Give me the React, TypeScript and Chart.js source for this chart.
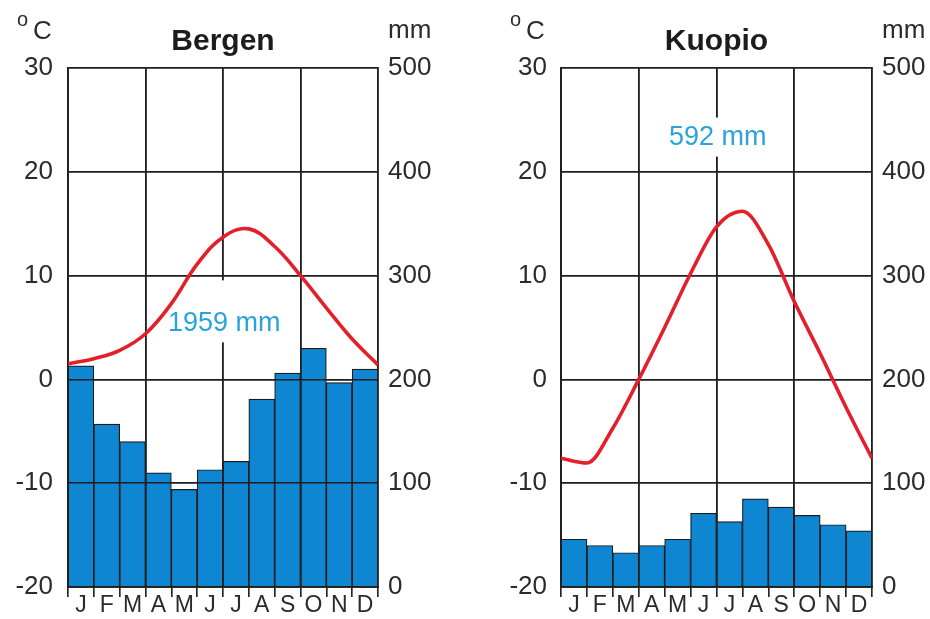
import React, { useEffect, useRef } from "react";
import { Chart, registerables } from "chart.js";

Chart.register(...registerables);

// ---------- data ----------
const MONTHS = ["J", "F", "M", "A", "M", "J", "J", "A", "S", "O", "N", "D"];
// temperature curve is sampled at month boundaries (0 = start of Jan, 12 = end of Dec)
const MONTH_EDGES = [0, 1, 2, 3, 4, 5, 6, 7, 8, 9, 10, 11, 12];
const TEMP_RANGE = [-20, 30];
const TEMP_STEP = 10;
const PRECIP_RANGE = [0, 500];
const PRECIP_STEP = 100;

const BERGEN_PRECIP = [213, 157, 140, 110, 94, 113, 121, 181, 206, 230, 197, 210];
const BERGEN_TEMP = [1.5, 2.0, 2.8, 4.4, 7.3, 11.1, 13.7, 14.5, 12.8, 10.0, 6.9, 3.9, 1.4];
const BERGEN_TOTAL = "1959 mm";

const KUOPIO_PRECIP = [46, 40, 33, 40, 46, 71, 63, 85, 77, 69, 60, 54];
const KUOPIO_TEMP = [-7.6, -8.05, -4.7, 0.0, 5.0, 10.2, 14.7, 16.2, 13.0, 7.5, 2.5, -2.7, -7.6];
const KUOPIO_TOTAL = "592 mm";

// ---------- style ----------
const FONT = '"Liberation Sans", Arial, Helvetica, sans-serif';
const GRID = "#1f1f1f";
const TEXT = "#2b2b2b";
const BAR = "#0f86d2";
const LINE = "#e3202a";
const NOTE = "#2aa3da";

type Station = {
  title: string;
  precip: number[];
  temp: number[];
  note: string;
  noteX: number;
  noteY: number;
  boxTop: number;
  boxBottom: number;
  left: number;
  leftAxis: number;
  rightAxis: number;
  leftPad: number;
  interp: string;
};

const STATIONS: Station[] = [
  {
    title: "Bergen",
    precip: BERGEN_PRECIP,
    temp: BERGEN_TEMP,
    note: BERGEN_TOTAL,
    noteX: 6.05,
    noteY: 5.4,
    boxTop: 43,
    boxBottom: 19,
    left: 0,
    leftAxis: 68,
    rightAxis: 87,
    leftPad: 15,
    interp: "default",
  },
  {
    title: "Kuopio",
    precip: KUOPIO_PRECIP,
    temp: KUOPIO_TEMP,
    note: KUOPIO_TOTAL,
    noteX: 6.05,
    noteY: 23.3,
    boxTop: 20,
    boxBottom: 19,
    left: 465,
    leftAxis: 96,
    rightAxis: 58,
    leftPad: 14,
    interp: "monotone",
  },
];

const W = 465;
const H = 619;

function makeConfig(st: Station): any {
  const gridOver = {
    id: "gridOver",
    afterDatasetDraw(chart: any, args: any) {
      if (args.meta.type !== "bar") return;
      const area = chart.chartArea;
      chart.scales.x.drawGrid(area);
      chart.scales.yT.drawGrid(area);
      chart.scales.x.drawBorder();
      chart.scales.yT.drawBorder();
      chart.scales.yP.drawBorder();
      // precipitation total label with white backing
      const ctx = chart.ctx;
      const nx = chart.scales.xL.getPixelForValue(st.noteX);
      const ny = chart.scales.yT.getPixelForValue(st.noteY);
      ctx.save();
      ctx.font = `27px ${FONT}`;
      const w = ctx.measureText(st.note).width;
      ctx.fillStyle = "#ffffff";
      ctx.fillRect(nx - w / 2 - 4, ny - st.boxTop, w + 8, st.boxTop + st.boxBottom);
      ctx.fillStyle = NOTE;
      ctx.textAlign = "center";
      ctx.textBaseline = "middle";
      ctx.fillText(st.note, nx, ny);
      ctx.restore();
    },
  };

  const headText = {
    id: "headText",
    afterDraw(chart: any) {
      const { ctx, chartArea: a } = chart;
      ctx.save();
      ctx.textBaseline = "alphabetic";
      ctx.textAlign = "left";
      ctx.fillStyle = TEXT;
      ctx.font = `20px ${FONT}`;
      ctx.fillText("o", a.left - 51, 25.5);
      ctx.font = `26px ${FONT}`;
      ctx.fillText("C", a.left - 35, 38.5);
      ctx.fillText("mm", a.right + 10, 37.5);
      ctx.font = `bold 30px ${FONT}`;
      ctx.textAlign = "center";
      ctx.fillStyle = "#1c1c1c";
      ctx.fillText(st.title, (a.left + a.right) / 2, 49.5);
      ctx.restore();
    },
  };

  return {
    type: "bar",
    data: {
      labels: MONTHS,
      datasets: [
        {
          type: "line",
          data: st.temp.map((t, i) => ({ x: MONTH_EDGES[i], y: t })),
          xAxisID: "xL",
          yAxisID: "yT",
          borderColor: LINE,
          borderWidth: 3.6,
          pointRadius: 0,
          tension: 0.4,
          cubicInterpolationMode: st.interp,
          fill: false,
          order: 1,
        },
        {
          type: "bar",
          data: st.precip,
          xAxisID: "x",
          yAxisID: "yP",
          backgroundColor: BAR,
          borderColor: "#1c1c1c",
          borderWidth: 1.2,
          categoryPercentage: 1,
          barPercentage: 1,
          grouped: false,
          order: 2,
        },
      ],
    },
    plugins: [gridOver, headText],
    options: {
      responsive: false,
      animation: false,
      events: [],
      layout: { padding: { top: 68, left: 0, right: 0, bottom: 0 } },
      plugins: {
        legend: { display: false },
        tooltip: { enabled: false },
        title: { display: false },
      },
      scales: {
        x: {
          type: "category",
          offset: true,
          grid: {
            offset: true,
            color: (c: any) => (c.index % 3 === 0 ? GRID : "rgba(0,0,0,0)"),
            lineWidth: 1.6,
            drawTicks: true,
            tickLength: 10,
            tickColor: GRID,
            tickWidth: 1.2,
          },
          border: { display: true, color: GRID, width: 1.6 },
          ticks: {
            color: TEXT,
            font: { family: FONT, size: 23 },
            padding: -5,
            autoSkip: false,
            maxRotation: 0,
          },
          afterFit: (s: any) => {
            s.height = 32;
          },
        },
        xL: {
          type: "linear",
          display: false,
          offset: false,
          grid: { offset: false },
          min: MONTH_EDGES[0],
          max: MONTH_EDGES[MONTH_EDGES.length - 1],
        },
        yT: {
          type: "linear",
          position: "left",
          min: TEMP_RANGE[0],
          max: TEMP_RANGE[1],
          ticks: {
            stepSize: TEMP_STEP,
            padding: st.leftPad,
            color: TEXT,
            font: { family: FONT, size: 26 },
          },
          grid: { color: GRID, lineWidth: 1.6, drawTicks: false },
          border: { display: true, color: GRID, width: 1.6 },
          afterFit: (s: any) => {
            s.width = st.leftAxis;
          },
        },
        yP: {
          type: "linear",
          position: "right",
          min: PRECIP_RANGE[0],
          max: PRECIP_RANGE[1],
          ticks: {
            stepSize: PRECIP_STEP,
            padding: 10,
            color: TEXT,
            font: { family: FONT, size: 26 },
          },
          grid: { display: false, drawTicks: false },
          border: { display: true, color: GRID, width: 1.6 },
          afterFit: (s: any) => {
            s.width = st.rightAxis;
          },
        },
      },
    },
  };
}

function ClimateChart({ st }: { st: Station }) {
  const ref = useRef<HTMLCanvasElement | null>(null);
  useEffect(() => {
    if (!ref.current) return;
    const chart = new Chart(ref.current, makeConfig(st));
    return () => chart.destroy();
  }, [st]);
  return (
    <canvas
      ref={ref}
      width={W}
      height={H}
      style={{ position: "absolute", left: st.left, top: 0, width: W, height: H }}
    />
  );
}

export default function App() {
  return (
    <div
      style={{
        position: "absolute",
        left: 0,
        top: 0,
        width: 930,
        height: 619,
        background: "#ffffff",
        overflow: "hidden",
      }}
    >
      {STATIONS.map((st) => (
        <ClimateChart key={st.title} st={st} />
      ))}
    </div>
  );
}
